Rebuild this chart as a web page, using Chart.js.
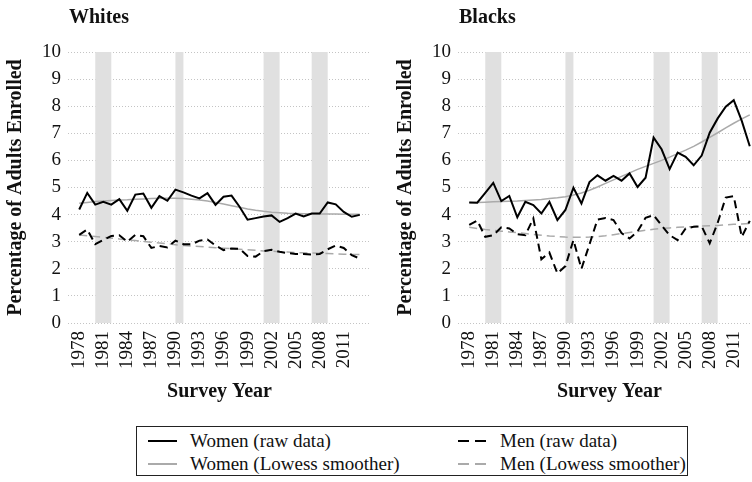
<!DOCTYPE html>
<html>
<head>
<meta charset="utf-8">
<script src="https://cdn.jsdelivr.net/npm/chart.js@4.4.1/dist/chart.umd.min.js"></script>
<style>
  html, body { margin: 0; padding: 0; background: #fff; width: 752px; height: 482px; overflow: hidden; }
  .panel { position: absolute; top: 0; }
  #legend {
    position: absolute; left: 136px; top: 426px; width: 552px; height: 50px;
    border: 1px solid #222; box-sizing: border-box;
    font-family: "Liberation Serif", serif; font-size: 19px; color: #111;
    display: grid; grid-template-columns: 310px 1fr; grid-auto-rows: 23px;
    padding: 2px 0 0 11px;
  }
  #legend .item { display: flex; align-items: center; white-space: nowrap; }
  #legend svg { margin-right: 13px; }
</style>
</head>
<body>
<canvas id="whites" class="panel" width="390" height="410" style="left:0"></canvas>
<canvas id="blacks" class="panel" width="390" height="410" style="left:390px"></canvas>
<div id="legend">
  <div class="item"><svg width="29" height="4"><line x1="0" y1="2" x2="29" y2="2" stroke="#000" stroke-width="2"/></svg>Women (raw data)</div>
  <div class="item"><svg width="29" height="4"><line x1="0" y1="2" x2="29" y2="2" stroke="#000" stroke-width="2" stroke-dasharray="11 6"/></svg>Men (raw data)</div>
  <div class="item"><svg width="29" height="4"><line x1="0" y1="2" x2="29" y2="2" stroke="#aaa" stroke-width="2"/></svg>Women (Lowess smoother)</div>
  <div class="item"><svg width="29" height="4"><line x1="0" y1="2" x2="29" y2="2" stroke="#aaa" stroke-width="2" stroke-dasharray="11 6"/></svg>Men (Lowess smoother)</div>
</div>
<script>
const years = [1978, 1979, 1980, 1981, 1982, 1983, 1984, 1985, 1986, 1987, 1988, 1989,
  1990, 1991, 1992, 1993, 1994, 1995, 1996, 1997, 1998, 1999, 2000, 2001,
  2002, 2003, 2004, 2005, 2006, 2007, 2008, 2009, 2010, 2011, 2012, 2013];
const xTicks = [1978, 1981, 1984, 1987, 1990, 1993, 1996, 1999, 2002, 2005, 2008, 2011];
const yTicks = [0, 1, 2, 3, 4, 5, 6, 7, 8, 9, 10];

// shaded recession periods
const recessionStart = [1980, 1990, 2001, 2007];
const recessionEnd = [1982, 1991, 2003, 2009];

const whitesWomen = [4.19, 4.80, 4.37, 4.47, 4.37, 4.57, 4.14, 4.74, 4.78, 4.25, 4.68, 4.51,
  4.92, 4.82, 4.70, 4.60, 4.79, 4.36, 4.66, 4.70, 4.29, 3.81, 3.87, 3.93,
  3.97, 3.73, 3.87, 4.04, 3.93, 4.04, 4.04, 4.45, 4.38, 4.10, 3.92, 3.99];
const whitesWomenSmooth = [4.42, 4.45, 4.48, 4.50, 4.52, 4.54, 4.55, 4.57, 4.58, 4.59, 4.60, 4.60,
  4.60, 4.59, 4.57, 4.54, 4.50, 4.45, 4.39, 4.33, 4.27, 4.21, 4.16, 4.12,
  4.09, 4.07, 4.05, 4.04, 4.03, 4.03, 4.02, 4.02, 4.02, 4.01, 4.01, 4.01];
const whitesMen = [3.25, 3.45, 2.91, 3.07, 3.21, 3.24, 3.00, 3.25, 3.20, 2.77, 2.84, 2.79,
  3.04, 2.91, 2.90, 3.04, 3.08, 2.86, 2.69, 2.75, 2.74, 2.47, 2.45, 2.65,
  2.70, 2.63, 2.58, 2.55, 2.55, 2.53, 2.55, 2.72, 2.86, 2.77, 2.50, 2.38];
const whitesMenSmooth = [3.25, 3.22, 3.19, 3.16, 3.13, 3.10, 3.07, 3.04, 3.01, 2.98, 2.95, 2.92,
  2.89, 2.86, 2.84, 2.82, 2.80, 2.78, 2.76, 2.74, 2.72, 2.70, 2.68, 2.66,
  2.65, 2.63, 2.62, 2.60, 2.59, 2.58, 2.57, 2.56, 2.55, 2.54, 2.53, 2.53];

const blacksWomen = [4.45, 4.44, 4.80, 5.17, 4.50, 4.69, 3.90, 4.47, 4.35, 4.04, 4.47, 3.80,
  4.17, 4.99, 4.41, 5.20, 5.45, 5.25, 5.43, 5.25, 5.52, 5.02, 5.36, 6.84,
  6.41, 5.68, 6.29, 6.13, 5.82, 6.18, 7.02, 7.55, 7.98, 8.22, 7.46, 6.52];
const blacksWomenSmooth = [4.45, 4.45, 4.46, 4.47, 4.48, 4.49, 4.50, 4.52, 4.54, 4.56, 4.59, 4.62,
  4.66, 4.72, 4.80, 4.90, 5.02, 5.15, 5.28, 5.41, 5.54, 5.67, 5.78, 5.89,
  6.00, 6.12, 6.25, 6.38, 6.52, 6.68, 6.85, 7.02, 7.20, 7.37, 7.53, 7.68];
const blacksMen = [3.62, 3.78, 3.18, 3.24, 3.53, 3.49, 3.28, 3.24, 3.86, 2.35, 2.60, 1.83,
  2.10, 3.06, 2.00, 2.90, 3.82, 3.87, 3.80, 3.32, 3.12, 3.38, 3.88, 3.98,
  3.60, 3.24, 3.06, 3.49, 3.55, 3.57, 2.94, 3.70, 4.63, 4.68, 3.18, 3.77];
const blacksMenSmooth = [3.53, 3.49, 3.45, 3.42, 3.39, 3.36, 3.33, 3.30, 3.27, 3.24, 3.21, 3.19,
  3.17, 3.16, 3.16, 3.17, 3.19, 3.22, 3.26, 3.30, 3.34, 3.38, 3.42, 3.46,
  3.49, 3.51, 3.53, 3.55, 3.56, 3.58, 3.59, 3.60, 3.62, 3.64, 3.65, 3.67];

const serif = '"Liberation Serif", "Times New Roman", serif';
const ink = '#111';
const smoothGrey = '#aaaaaa';

const shading = {
  id: 'shading',
  beforeDatasetsDraw(chart) {
    const {ctx, chartArea, scales: {x}} = chart;
    ctx.save();
    ctx.fillStyle = '#e0e0e0';
    recessionStart.forEach((s, i) => {
      const x0 = x.getPixelForValue(s);
      const x1 = x.getPixelForValue(recessionEnd[i]);
      ctx.fillRect(x0, chartArea.top, x1 - x0, chartArea.bottom - chartArea.top);
    });
    ctx.restore();
  }
};

const panelTitle = {
  id: 'panelTitle',
  afterDraw(chart, args, opts) {
    const {ctx, chartArea} = chart;
    ctx.save();
    ctx.font = 'bold 20px ' + serif;
    ctx.fillStyle = ink;
    ctx.textBaseline = 'alphabetic';
    ctx.fillText(opts.text, chartArea.left + 1, 23);
    ctx.restore();
  }
};

function series(values) {
  return values.map((v, i) => ({x: years[i], y: v}));
}

function makeChart(id, title, women, womenSmooth, men, menSmooth) {
  return new Chart(document.getElementById(id), {
    type: 'line',
    data: {
      datasets: [
        {label: 'Women (raw data)', data: series(women), borderColor: '#000', borderWidth: 2},
        {label: 'Men (raw data)', data: series(men), borderColor: '#000', borderWidth: 2, borderDash: [8, 5]},
        {label: 'Women (Lowess smoother)', data: series(womenSmooth), borderColor: smoothGrey, borderWidth: 1.5},
        {label: 'Men (Lowess smoother)', data: series(menSmooth), borderColor: smoothGrey, borderWidth: 1.5, borderDash: [8, 5]}
      ]
    },
    options: {
      responsive: false,
      animation: false,
      layout: {padding: {top: 52, right: 19, bottom: 2, left: 0}},
      elements: {point: {radius: 0}, line: {tension: 0, fill: false}},
      plugins: {
        legend: {display: false},
        tooltip: {enabled: false},
        panelTitle: {text: title}
      },
      scales: {
        x: {
          type: 'linear',
          min: 1976.6,
          max: 2014.4,
          afterBuildTicks: axis => { axis.ticks = xTicks.map(v => ({value: v})); },
          afterFit: axis => { axis.height = 85; },
          grid: {display: false, drawTicks: false},
          border: {display: false},
          ticks: {
            minRotation: 90, maxRotation: 90, padding: 8, color: ink,
            font: {family: serif, size: 19},
            callback: v => String(v)
          },
          title: {
            display: true, text: 'Survey Year', color: ink,
            font: {family: serif, size: 20, weight: 'bold'},
            padding: {top: 4, bottom: 4}
          }
        },
        y: {
          min: 0,
          max: 10,
          afterBuildTicks: axis => { axis.ticks = yTicks.map(v => ({value: v})); },
          afterFit: axis => { axis.width = 68; },
          grid: {color: '#c4c4c4', lineWidth: 1, drawTicks: false},
          border: {display: false, dash: [1, 2]},
          ticks: {
            padding: 7, color: ink,
            font: {family: serif, size: 19},
            callback: v => String(v)
          },
          title: {
            display: true, text: 'Percentage of Adults Enrolled', color: ink,
            font: {family: serif, size: 20, weight: 'bold'},
            padding: {top: 4, bottom: 4}
          }
        }
      }
    },
    plugins: [shading, panelTitle]
  });
}

makeChart('whites', 'Whites', whitesWomen, whitesWomenSmooth, whitesMen, whitesMenSmooth);
makeChart('blacks', 'Blacks', blacksWomen, blacksWomenSmooth, blacksMen, blacksMenSmooth);
</script>
</body>
</html>
